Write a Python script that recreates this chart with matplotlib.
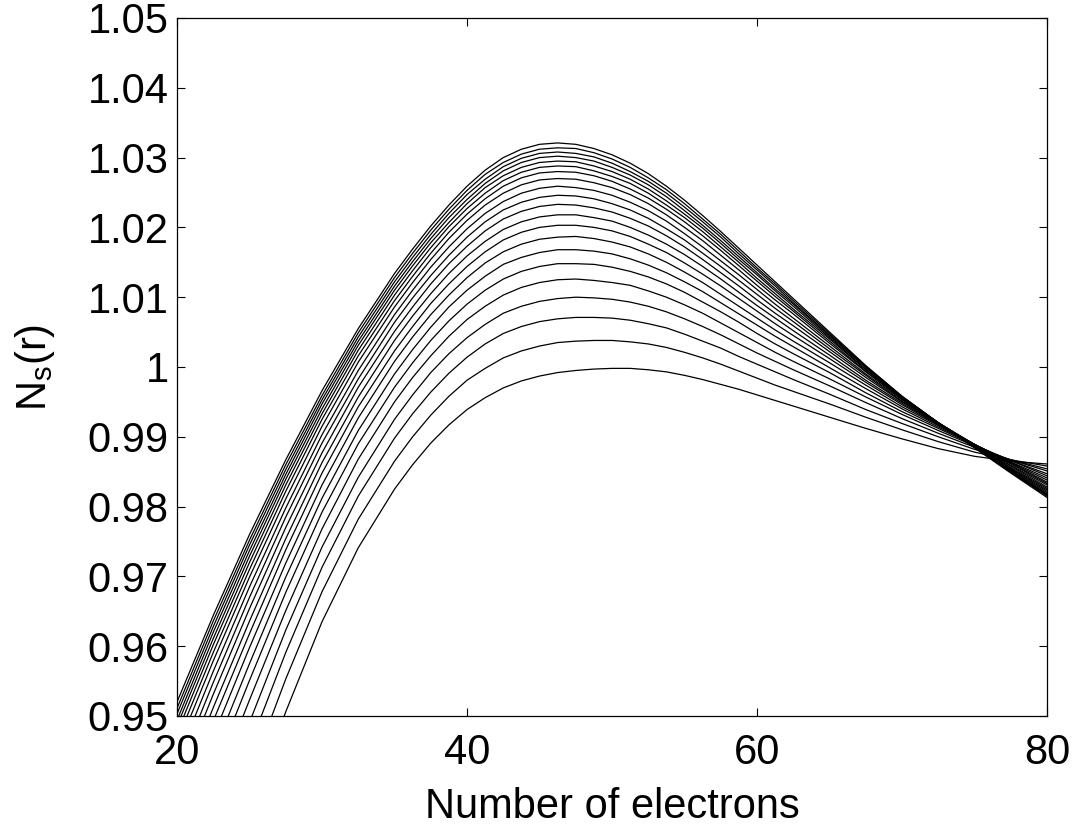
import matplotlib
matplotlib.use("Agg")
import matplotlib.pyplot as plt

plt.rcParams['font.family'] = ['Liberation Sans', 'DejaVu Sans']

# number of electrons at which N_s(r) is sampled
electrons = [20, 22.5, 25, 27.5, 30, 32.5, 35, 36.25, 37.5, 38.75, 40, 41.25,
             42.5, 43.75, 45, 46.25, 47.5, 48.75, 50, 51.25, 52.5, 53.75, 55,
             56.25, 57.5, 58.75, 60, 61.25, 62.5, 65, 67.5, 70, 72.5, 75,
             77.5, 80]

# N_s(r) at each electron count above; each column lists the 21 radii,
# from the curve with the highest maximum down to the lowest one
ns_columns = [
    [0.9520, 0.9511, 0.9503, 0.9494, 0.9486, 0.9476, 0.9465, 0.9452, 0.9436, 0.9419, 0.9402, 0.9382, 0.9362, 0.9339, 0.9315, 0.9287, 0.9256, 0.9221, 0.9182, 0.9135, 0.9078],
    [0.9644, 0.9636, 0.9628, 0.9620, 0.9611, 0.9602, 0.9591, 0.9579, 0.9564, 0.9548, 0.9531, 0.9512, 0.9493, 0.9471, 0.9447, 0.9421, 0.9392, 0.9358, 0.9320, 0.9276, 0.9221],
    [0.9760, 0.9752, 0.9745, 0.9737, 0.9729, 0.9720, 0.9710, 0.9699, 0.9685, 0.9670, 0.9654, 0.9636, 0.9618, 0.9598, 0.9575, 0.9551, 0.9523, 0.9491, 0.9456, 0.9415, 0.9363],
    [0.9867, 0.9860, 0.9853, 0.9846, 0.9839, 0.9831, 0.9822, 0.9811, 0.9798, 0.9785, 0.9770, 0.9754, 0.9738, 0.9719, 0.9699, 0.9677, 0.9651, 0.9623, 0.9591, 0.9553, 0.9506],
    [0.9966, 0.9959, 0.9953, 0.9947, 0.9940, 0.9933, 0.9925, 0.9915, 0.9903, 0.9891, 0.9877, 0.9863, 0.9848, 0.9831, 0.9812, 0.9792, 0.9768, 0.9742, 0.9713, 0.9678, 0.9635],
    [1.0055, 1.0049, 1.0043, 1.0037, 1.0031, 1.0024, 1.0016, 1.0007, 0.9995, 0.9983, 0.9971, 0.9957, 0.9943, 0.9927, 0.9909, 0.9890, 0.9868, 0.9842, 0.9815, 0.9782, 0.9741],
    [1.0134, 1.0128, 1.0122, 1.0116, 1.0110, 1.0103, 1.0095, 1.0086, 1.0075, 1.0064, 1.0051, 1.0038, 1.0023, 1.0008, 0.9990, 0.9971, 0.9950, 0.9925, 0.9898, 0.9865, 0.9825],
    [1.0169, 1.0163, 1.0157, 1.0151, 1.0145, 1.0138, 1.0130, 1.0121, 1.0110, 1.0099, 1.0086, 1.0073, 1.0058, 1.0043, 1.0025, 1.0006, 0.9985, 0.9960, 0.9933, 0.9900, 0.9860],
    [1.0202, 1.0196, 1.0190, 1.0184, 1.0178, 1.0171, 1.0163, 1.0154, 1.0143, 1.0131, 1.0119, 1.0105, 1.0091, 1.0075, 1.0057, 1.0038, 1.0016, 0.9992, 0.9964, 0.9931, 0.9891],
    [1.0232, 1.0226, 1.0220, 1.0214, 1.0207, 1.0201, 1.0193, 1.0184, 1.0172, 1.0160, 1.0148, 1.0134, 1.0119, 1.0103, 1.0086, 1.0066, 1.0044, 1.0019, 0.9991, 0.9958, 0.9917],
    [1.0259, 1.0253, 1.0247, 1.0240, 1.0234, 1.0227, 1.0219, 1.0210, 1.0198, 1.0186, 1.0173, 1.0159, 1.0144, 1.0128, 1.0110, 1.0090, 1.0068, 1.0042, 1.0014, 0.9981, 0.9939],
    [1.0282, 1.0276, 1.0269, 1.0263, 1.0257, 1.0249, 1.0241, 1.0232, 1.0220, 1.0208, 1.0195, 1.0180, 1.0165, 1.0149, 1.0130, 1.0110, 1.0087, 1.0061, 1.0033, 0.9998, 0.9956],
    [1.0300, 1.0293, 1.0287, 1.0281, 1.0274, 1.0267, 1.0259, 1.0249, 1.0237, 1.0225, 1.0212, 1.0197, 1.0182, 1.0165, 1.0147, 1.0126, 1.0103, 1.0077, 1.0048, 1.0013, 0.9970],
    [1.0312, 1.0305, 1.0299, 1.0293, 1.0286, 1.0279, 1.0271, 1.0261, 1.0249, 1.0236, 1.0223, 1.0208, 1.0193, 1.0176, 1.0157, 1.0137, 1.0114, 1.0087, 1.0058, 1.0023, 0.9980],
    [1.0319, 1.0312, 1.0306, 1.0300, 1.0293, 1.0286, 1.0278, 1.0268, 1.0256, 1.0243, 1.0230, 1.0215, 1.0200, 1.0183, 1.0164, 1.0144, 1.0121, 1.0094, 1.0065, 1.0030, 0.9987],
    [1.0321, 1.0314, 1.0308, 1.0302, 1.0295, 1.0288, 1.0280, 1.0270, 1.0259, 1.0246, 1.0233, 1.0218, 1.0203, 1.0186, 1.0168, 1.0148, 1.0125, 1.0098, 1.0069, 1.0035, 0.9992],
    [1.0319, 1.0313, 1.0306, 1.0300, 1.0294, 1.0287, 1.0279, 1.0269, 1.0257, 1.0245, 1.0232, 1.0218, 1.0203, 1.0187, 1.0168, 1.0148, 1.0126, 1.0100, 1.0071, 1.0037, 0.9995],
    [1.0313, 1.0307, 1.0301, 1.0295, 1.0288, 1.0281, 1.0274, 1.0264, 1.0253, 1.0241, 1.0228, 1.0214, 1.0200, 1.0184, 1.0166, 1.0147, 1.0124, 1.0099, 1.0071, 1.0038, 0.9997],
    [1.0304, 1.0298, 1.0292, 1.0286, 1.0280, 1.0273, 1.0266, 1.0257, 1.0246, 1.0234, 1.0222, 1.0209, 1.0195, 1.0179, 1.0162, 1.0143, 1.0121, 1.0097, 1.0070, 1.0038, 0.9998],
    [1.0292, 1.0286, 1.0280, 1.0275, 1.0269, 1.0263, 1.0255, 1.0247, 1.0236, 1.0225, 1.0213, 1.0200, 1.0187, 1.0172, 1.0155, 1.0137, 1.0117, 1.0093, 1.0067, 1.0036, 0.9998],
    [1.0277, 1.0271, 1.0266, 1.0261, 1.0255, 1.0249, 1.0242, 1.0234, 1.0224, 1.0213, 1.0202, 1.0189, 1.0176, 1.0162, 1.0146, 1.0129, 1.0109, 1.0087, 1.0062, 1.0033, 0.9996],
    [1.0259, 1.0254, 1.0249, 1.0244, 1.0238, 1.0232, 1.0226, 1.0218, 1.0209, 1.0198, 1.0188, 1.0176, 1.0164, 1.0150, 1.0135, 1.0119, 1.0100, 1.0079, 1.0056, 1.0028, 0.9993],
    [1.0239, 1.0234, 1.0229, 1.0224, 1.0219, 1.0214, 1.0208, 1.0200, 1.0191, 1.0182, 1.0172, 1.0161, 1.0149, 1.0136, 1.0122, 1.0107, 1.0089, 1.0069, 1.0047, 1.0021, 0.9988],
    [1.0217, 1.0212, 1.0208, 1.0203, 1.0199, 1.0194, 1.0188, 1.0181, 1.0172, 1.0163, 1.0154, 1.0144, 1.0133, 1.0121, 1.0108, 1.0093, 1.0077, 1.0058, 1.0037, 1.0013, 0.9982],
    [1.0194, 1.0190, 1.0186, 1.0181, 1.0177, 1.0172, 1.0167, 1.0160, 1.0152, 1.0144, 1.0135, 1.0126, 1.0116, 1.0104, 1.0092, 1.0079, 1.0063, 1.0046, 1.0027, 1.0004, 0.9975],
    [1.0170, 1.0166, 1.0162, 1.0158, 1.0154, 1.0150, 1.0145, 1.0139, 1.0132, 1.0124, 1.0116, 1.0107, 1.0098, 1.0087, 1.0076, 1.0064, 1.0049, 1.0033, 1.0015, 0.9994, 0.9968],
    [1.0146, 1.0142, 1.0139, 1.0135, 1.0132, 1.0127, 1.0123, 1.0117, 1.0111, 1.0104, 1.0096, 1.0088, 1.0080, 1.0070, 1.0060, 1.0048, 1.0035, 1.0020, 1.0004, 0.9984, 0.9960],
    [1.0122, 1.0119, 1.0116, 1.0112, 1.0109, 1.0105, 1.0101, 1.0096, 1.0090, 1.0084, 1.0077, 1.0070, 1.0062, 1.0053, 1.0044, 1.0033, 1.0021, 1.0008, 0.9993, 0.9974, 0.9952],
    [1.0098, 1.0095, 1.0092, 1.0090, 1.0087, 1.0083, 1.0080, 1.0076, 1.0070, 1.0065, 1.0059, 1.0052, 1.0045, 1.0037, 1.0029, 1.0019, 1.0008, 0.9996, 0.9982, 0.9965, 0.9944],
    [1.0050, 1.0048, 1.0046, 1.0044, 1.0042, 1.0040, 1.0037, 1.0034, 1.0030, 1.0026, 1.0022, 1.0017, 1.0012, 1.0006, 0.9999, 0.9992, 0.9983, 0.9973, 0.9961, 0.9947, 0.9928],
    [1.0002, 1.0001, 1.0000, 0.9999, 0.9997, 0.9996, 0.9994, 0.9993, 0.9990, 0.9988, 0.9985, 0.9981, 0.9978, 0.9974, 0.9969, 0.9963, 0.9957, 0.9949, 0.9939, 0.9928, 0.9912],
    [0.9958, 0.9958, 0.9957, 0.9957, 0.9956, 0.9956, 0.9955, 0.9954, 0.9953, 0.9951, 0.9950, 0.9948, 0.9946, 0.9943, 0.9940, 0.9936, 0.9932, 0.9926, 0.9919, 0.9910, 0.9897],
    [0.9920, 0.9920, 0.9920, 0.9920, 0.9920, 0.9920, 0.9920, 0.9920, 0.9920, 0.9920, 0.9919, 0.9918, 0.9917, 0.9916, 0.9914, 0.9912, 0.9909, 0.9905, 0.9900, 0.9893, 0.9883],
    [0.9884, 0.9885, 0.9885, 0.9886, 0.9886, 0.9887, 0.9887, 0.9888, 0.9888, 0.9889, 0.9889, 0.9889, 0.9889, 0.9889, 0.9889, 0.9888, 0.9887, 0.9885, 0.9882, 0.9878, 0.9872],
    [0.9848, 0.9849, 0.9850, 0.9851, 0.9852, 0.9853, 0.9854, 0.9855, 0.9856, 0.9858, 0.9859, 0.9861, 0.9862, 0.9863, 0.9864, 0.9866, 0.9866, 0.9867, 0.9867, 0.9867, 0.9865],
    [0.9813, 0.9815, 0.9816, 0.9817, 0.9818, 0.9820, 0.9822, 0.9824, 0.9826, 0.9828, 0.9831, 0.9833, 0.9835, 0.9838, 0.9841, 0.9844, 0.9847, 0.9851, 0.9854, 0.9858, 0.9861],
]

x_ticks = [20, 40, 60, 80]
y_ticks = [0.95, 0.96, 0.97, 0.98, 0.99, 1.00, 1.01, 1.02, 1.03, 1.04, 1.05]
y_tick_labels = ['0.95', '0.96', '0.97', '0.98', '0.99', '1',
                 '1.01', '1.02', '1.03', '1.04', '1.05']

# one curve per radius
curves = list(zip(*ns_columns))

fig = plt.figure(figsize=(10.78, 8.33), dpi=100)
ax = fig.add_axes([0.1642, 0.1405, 0.8071, 0.8379])

for ns in curves:
    ax.plot(electrons, ns, color='black', linewidth=0.9)

ax.set_xlim(20, 80)
ax.set_ylim(0.95, 1.05)
ax.set_xticks(x_ticks)
ax.set_xticklabels([str(t) for t in x_ticks])
ax.set_yticks(y_ticks)
ax.set_yticklabels(y_tick_labels)

ax.tick_params(axis='both', direction='in', top=True, right=True,
               length=6, width=0.8, labelsize=30, color='black')
ax.tick_params(axis='x', pad=12)
ax.tick_params(axis='y', pad=6)
for side in ax.spines.values():
    side.set_linewidth(0.9)

ax.set_xlabel('Number of electrons', fontsize=30, labelpad=10)
ax.set_ylabel(r'N$_\mathregular{s}$(r)', fontsize=30, labelpad=22)

fig.savefig('out.png', dpi=100, facecolor='white')
